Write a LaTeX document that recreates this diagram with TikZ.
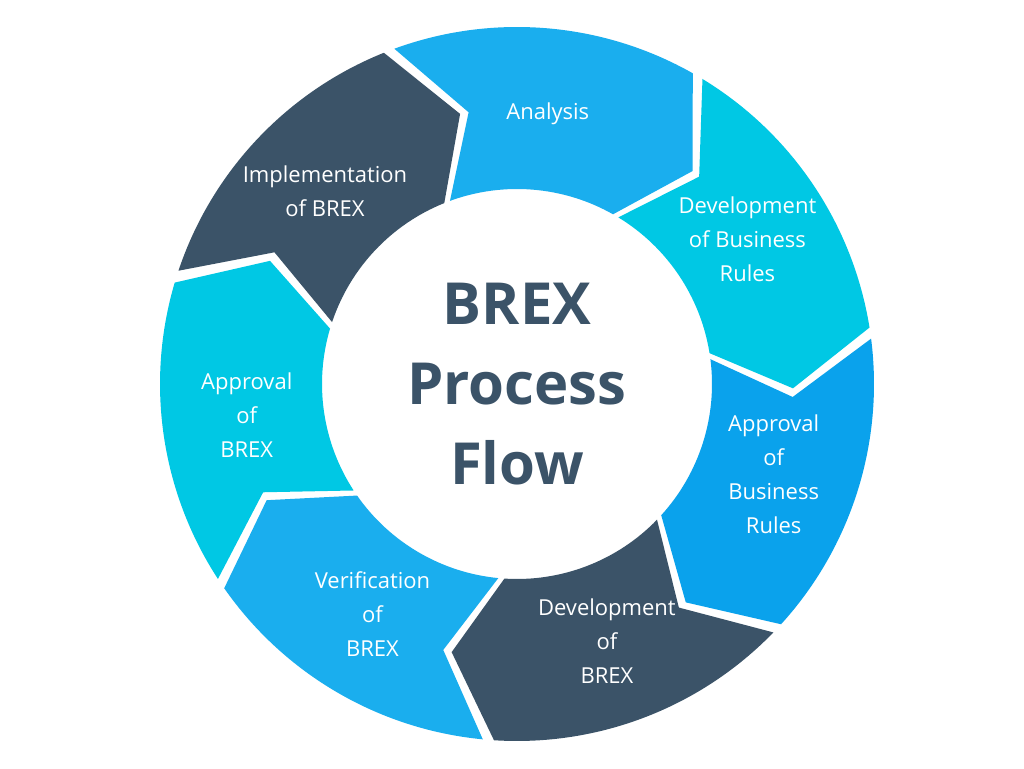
\documentclass[tikz,border=0pt]{standalone}
\usepackage{fontspec}
\setmainfont{Open Sans}
\definecolor{sky}{HTML}{1AAEEE}
\definecolor{cyan1}{HTML}{00C8E4}
\definecolor{blue1}{HTML}{0AA2EC}
\definecolor{slate}{HTML}{3B5368}
\tikzset{
  lab/.style={text=white, align=center, font=\fontsize{22}{34}\selectfont},
}
\begin{document}
\begin{tikzpicture}[x=1pt,y=1pt]
    \useasboundingbox (0,0) rectangle (1024,768);
    \fill[white] (0,0) rectangle (1024,768);
    \begin{scope}[shift={(517,384)}]
    \foreach \a/\col/\txt [count=\i] in {
        111/sky/{Analysis},
        59.6/cyan1/{Development\\of Business\\Rules},
        8.2/blue1/{Approval\\of\\Business\\Rules},
        -43.2/slate/{Development\\of\\BREX},
        -94.6/sky/{Verification\\of\\BREX},
        -146/cyan1/{Approval\\of\\BREX},
        162.4/slate/{Implementation\\of BREX}}{
      \pgfmathsetmacro\b{\a-51.4}
      \fill[\col] (\a-0.9:357) arc[start angle=\a-0.9, end angle=\b+0.9, radius=357]
        -- (\b+0.9-10:276) -- (\b+0.9:195)
        arc[start angle=\b+0.9, end angle=\a-0.9, radius=195]
        -- (\a-0.9-10:276) -- cycle;
      \node[lab] (seg\i) at (\a-27.5:272) {\txt};
    }
    \node[text=slate, align=center, font=\bfseries\fontsize{58}{80}\selectfont]
      (title) at (0,0) {BREX\\Process\\Flow};
    \end{scope}
\end{tikzpicture}
\end{document}
